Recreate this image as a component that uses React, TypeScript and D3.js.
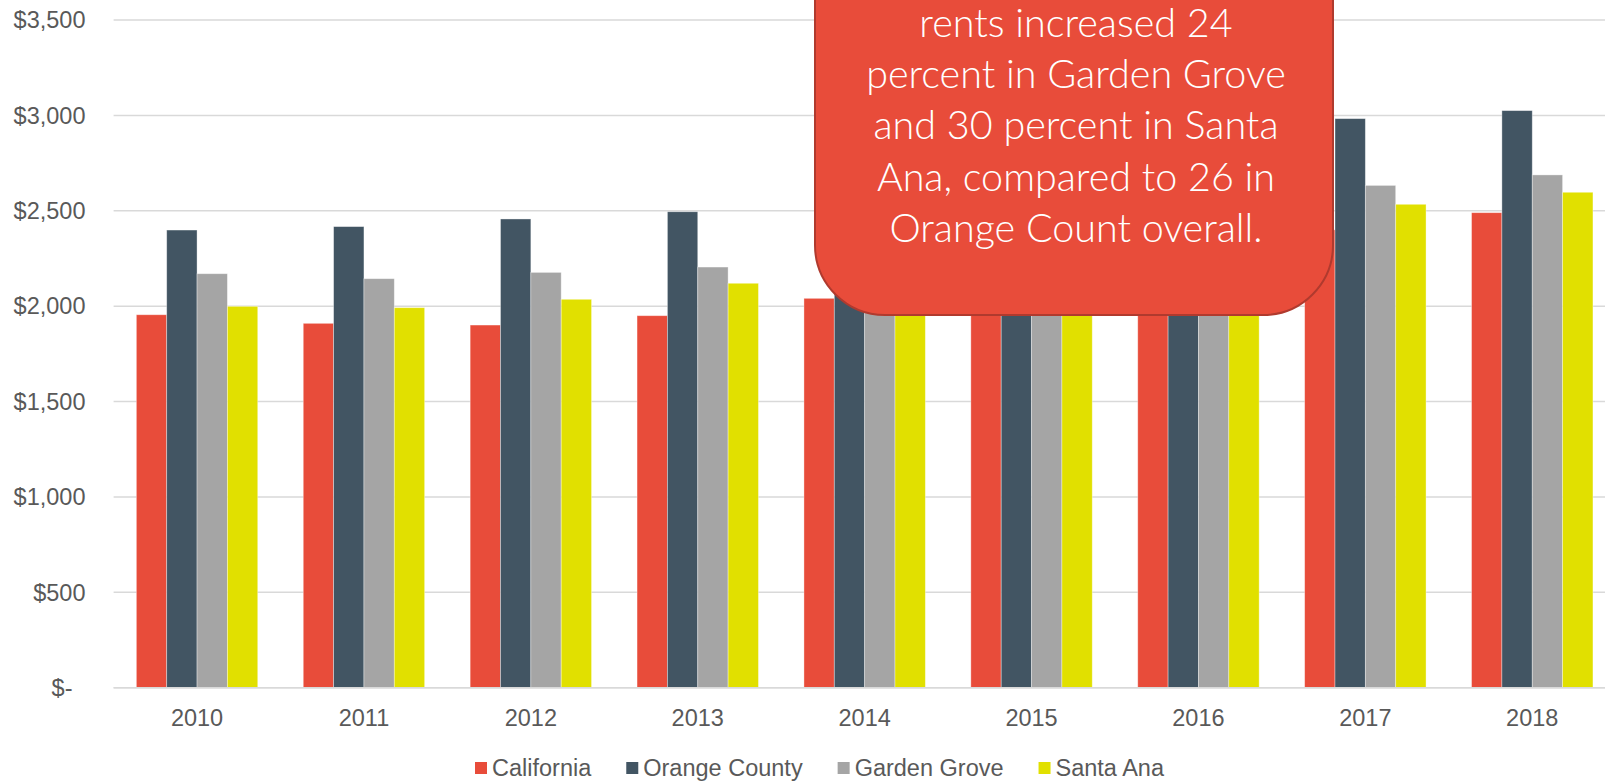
import React from "react";
import * as d3 from "d3";

const years = ["2010", "2011", "2012", "2013", "2014", "2015", "2016", "2017", "2018"];
const seriesNames = ["California", "Orange County", "Garden Grove", "Santa Ana"];
const california = [1955, 1910, 1901, 1950, 2041, 2150, 2280, 2400, 2490];
const orangeCounty = [2399, 2417, 2457, 2495, 2600, 2720, 2850, 2983, 3025];
const gardenGrove = [2170, 2144, 2177, 2205, 2300, 2400, 2520, 2633, 2688];
const santaAna = [1999, 1992, 2036, 2120, 2200, 2300, 2420, 2534, 2597];
const yTicks = [0, 500, 1000, 1500, 2000, 2500, 3000, 3500];
const calloutLines = [
  "rents increased 24",
  "percent in Garden Grove",
  "and 30 percent in Santa",
  "Ana, compared to 26 in",
  "Orange Count overall.",
];

const seriesValues = [california, orangeCounty, gardenGrove, santaAna];
const colors = ["#E84C3A", "#425563", "#A5A5A5", "#E1E000"];

const W = 1605;
const H = 781;
const AXIS_FONT = "Arial, 'Liberation Sans', sans-serif";

function measure(text: string, font: string) {
  const c = document.createElement("canvas").getContext("2d");
  if (!c) return text.length * 12;
  c.font = font;
  return c.measureText(text).width;
}

export default function App() {
  const plotLeft = 113.6;
  const step = 166.9;
  const plotRight = plotLeft + step * years.length;
  const x = d3
    .scaleBand<string>()
    .domain(years)
    .range([plotLeft, plotRight])
    .paddingInner(0.2726)
    .paddingOuter(0.1363);
  const xs = d3.scaleBand<string>().domain(seriesNames).range([0, x.bandwidth()]).padding(0);
  const y = d3.scaleLinear().domain([0, 3500]).range([687.7, 20]);

  const fmt = (v: number) => (v === 0 ? "$-" : "$" + d3.format(",")(v));

  // legend layout
  const legendFont = `23.5px ${AXIS_FONT}`;
  let lx = 475;
  const legendItems = seriesNames.map((name, i) => {
    const item = { name, color: colors[i], x: lx };
    lx += 12 + 5 + measure(name, legendFont) + 35;
    return item;
  });

  const cx0 = 815;
  const cx1 = 1333;
  const cBottom = 315;
  const cMid = (cx0 + cx1) / 2 + 2;

  return (
    <div style={{ position: "absolute", left: 0, top: 0, width: W, height: H, background: "#fff" }}>
      <svg width={W} height={H} style={{ display: "block" }}>
        <rect x={0} y={0} width={W} height={H} fill="#ffffff" />
        {yTicks.map((t) => (
          <g key={t}>
            <line x1={plotLeft} x2={W + 20} y1={y(t)} y2={y(t)} stroke="#D9D9D9" strokeWidth={1.5} />
            <text
              x={t === 0 ? 72.5 : 85.5}
              y={y(t)}
              dy="0.35em"
              textAnchor="end"
              fontFamily={AXIS_FONT}
              fontSize={23.5}
              fill="#595959"
            >
              {fmt(t)}
            </text>
          </g>
        ))}
        {years.map((yr, i) => (
          <g key={yr} transform={`translate(${x(yr)},0)`}>
            {seriesNames.map((s, j) => {
              const v = seriesValues[j][i];
              return (
                <rect
                  key={s}
                  x={xs(s)}
                  y={y(v)}
                  width={xs.bandwidth()}
                  height={y(0) - y(v)}
                  fill={colors[j]}
                  stroke="#ffffff"
                  strokeOpacity={0.45}
                  strokeWidth={0.8}
                />
              );
            })}
          </g>
        ))}
        <line x1={plotLeft} x2={W + 20} y1={y(0)} y2={y(0)} stroke="#D9D9D9" strokeWidth={1.5} />
        {years.map((yr) => (
          <text
            key={yr}
            x={(x(yr) as number) + x.bandwidth() / 2}
            y={726}
            textAnchor="middle"
            fontFamily={AXIS_FONT}
            fontSize={23.5}
            fill="#595959"
          >
            {yr}
          </text>
        ))}
        {legendItems.map((it) => (
          <g key={it.name}>
            <rect x={it.x} y={762} width={12} height={12} fill={it.color} />
            <text x={it.x + 17} y={776} fontFamily={AXIS_FONT} fontSize={23.5} fill="#595959">
              {it.name}
            </text>
          </g>
        ))}
        <rect
          x={cx0}
          y={-120}
          width={cx1 - cx0}
          height={cBottom + 120}
          rx={70}
          ry={70}
          fill="#E84C3A"
          stroke="#B03A2E"
          strokeWidth={2}
        />
        {calloutLines.map((ln, i) => (
          <text
            key={i}
            x={cMid}
            y={37 + i * 51.2}
            textAnchor="middle"
            fontFamily="'Source Sans Pro', Lato, 'Open Sans', sans-serif"
            fontWeight={300}
            fontSize={39.5}
            fill="#ffffff"
          >
            {ln}
          </text>
        ))}
      </svg>
    </div>
  );
}
